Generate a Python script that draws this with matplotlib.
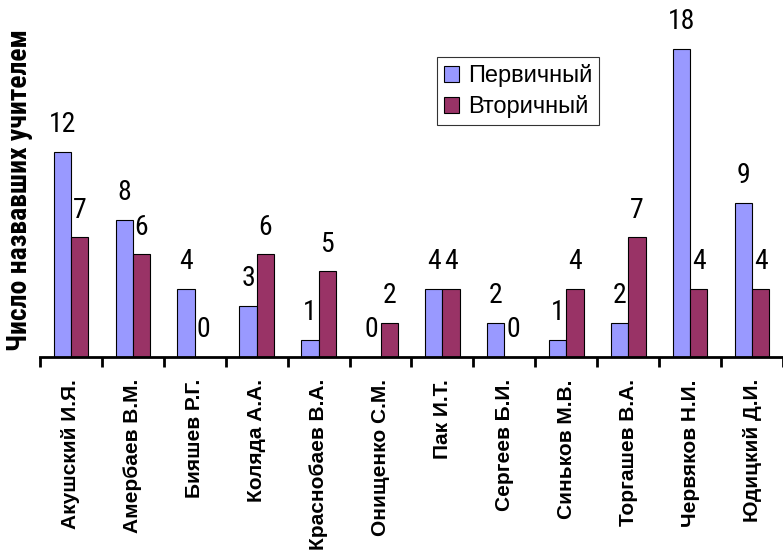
import matplotlib
matplotlib.use("Agg")
import matplotlib.pyplot as plt
import numpy as np
from matplotlib import font_manager as fm

categories = ["Акушский И.Я.", "Амербаев В.М.", "Бияшев Р.Г.", "Коляда А.А.",
              "Краснобаев В.А.", "Онищенко С.М.", "Пак И.Т.", "Сергеев Б.И.",
              "Синьков М.В.", "Торгашев В.А.", "Червяков Н.И.", "Юдицкий Д.И."]
primary = [12, 8, 4, 3, 1, 0, 4, 2, 1, 2, 18, 9]
secondary = [7, 6, 0, 6, 5, 2, 4, 0, 4, 7, 4, 4]
series_names = ["Первичный", "Вторичный"]
ylabel = "Число назвавших учителем"

names = sorted({f.name for f in fm.fontManager.ttflist})
narrow = [n for n in ["Liberation Sans Narrow", "Roboto Condensed", "DejaVu Sans Condensed", "Liberation Sans", "DejaVu Sans"] if n in names]
sans = [n for n in ["Liberation Sans", "Arial", "DejaVu Sans"] if n in names]

fig = plt.figure(figsize=(7.83, 5.53), dpi=100)
ax = fig.add_axes([40/783, 1 - 357/553, 1 - 40/783, 357/553])

x = np.arange(len(categories))
w = 0.28
b1 = ax.bar(x - w/2, primary, w, color="#9999FF", edgecolor="black", linewidth=0.8, label=series_names[0])
b2 = ax.bar(x + w/2, secondary, w, color="#993366", edgecolor="black", linewidth=0.8, label=series_names[1])

for bars, vals in ((b1, primary), (b2, secondary)):
    for r, v in zip(bars, vals):
        ax.annotate(str(v), (r.get_x() + r.get_width()/2, v), xytext=(0, 19.5),
                    textcoords="offset points", ha="center", va="center",
                    fontsize=20, family=narrow)

ax.set_xlim(-0.5, 11.45)
ax.set_ylim(0, 357/17.12)
for s in ["top", "right", "left"]:
    ax.spines[s].set_visible(False)
ax.spines["bottom"].set_linewidth(2)
ax.set_yticks([])
ax.set_xticks(x)
ax.set_xticklabels(categories, rotation=90, fontsize=15, fontweight="bold", family=sans)
ax.tick_params(axis="x", which="major", length=0, pad=16)
ax.set_xticks(np.arange(-0.5, 12, 1), minor=True)
ax.tick_params(axis="x", which="minor", length=7, width=2, direction="out")

fig.text(20/783, 1 - 190/553, ylabel, rotation=90, ha="center", va="center",
         fontsize=20, fontweight="bold", family=narrow)

leg = ax.legend(loc="upper left", bbox_to_anchor=((437-40)/743, 1 - 57/357),
                prop={"family": sans, "size": 17}, frameon=True, fancybox=False,
                edgecolor="black", handlelength=0.65, handleheight=0.65, handletextpad=0.35,
                borderpad=0.3, labelspacing=0.35, borderaxespad=0)
leg.get_frame().set_linewidth(0.8)

fig.savefig("out.png", dpi=100)
